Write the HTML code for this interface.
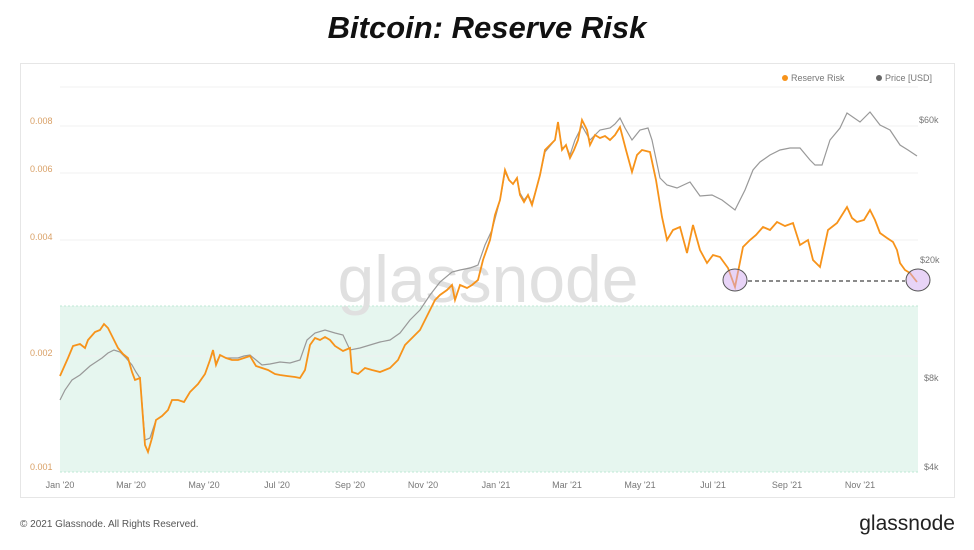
<!DOCTYPE html>
<html><head><meta charset="utf-8"><style>
body{margin:0;width:974px;height:545px;background:#fff;overflow:hidden;font-family:"Liberation Sans",sans-serif}
</style></head><body>
<svg width="974" height="545" xmlns="http://www.w3.org/2000/svg" font-family="Liberation Sans, sans-serif">
<text x="487" y="38" text-anchor="middle" font-size="31" font-weight="bold" font-style="italic" fill="#111">Bitcoin: Reserve Risk</text>
<rect x="20.5" y="63.5" width="934" height="434" fill="#fff" stroke="#e6e6e6"/>
<rect x="60" y="306" width="858" height="166" fill="#e6f6ef"/>
<line x1="60" y1="306" x2="918" y2="306" stroke="#bfe8d6" stroke-dasharray="2,2"/>
<line x1="60" y1="472" x2="918" y2="472" stroke="#bfe8d6" stroke-dasharray="2,2"/>
<g stroke="#f0f0f0"><line x1="60" y1="87" x2="918" y2="87"/><line x1="60" y1="126" x2="918" y2="126"/><line x1="60" y1="173" x2="918" y2="173"/><line x1="60" y1="240" x2="918" y2="240"/><line x1="60" y1="356" x2="918" y2="356"/></g>
<text x="488" y="302" text-anchor="middle" font-size="66" fill="#e0e0e0">glassnode</text>
<g font-size="9" fill="#d9a066"><text x="30" y="124">0.008</text><text x="30" y="172">0.006</text><text x="30" y="240">0.004</text><text x="30" y="356">0.002</text><text x="30" y="470">0.001</text></g>
<g font-size="9" fill="#777"><text x="919" y="123">$60k</text><text x="920" y="263">$20k</text><text x="924" y="381">$8k</text><text x="924" y="470">$4k</text></g>
<g font-size="9" fill="#777" text-anchor="middle"><text x="60" y="488">Jan '20</text><text x="131" y="488">Mar '20</text><text x="204" y="488">May '20</text><text x="277" y="488">Jul '20</text><text x="350" y="488">Sep '20</text><text x="423" y="488">Nov '20</text><text x="496" y="488">Jan '21</text><text x="567" y="488">Mar '21</text><text x="640" y="488">May '21</text><text x="713" y="488">Jul '21</text><text x="787" y="488">Sep '21</text><text x="860" y="488">Nov '21</text></g>
<circle cx="785" cy="78" r="3" fill="#f7931a"/><text x="791" y="81" font-size="9" fill="#777">Reserve Risk</text>
<circle cx="879" cy="78" r="3" fill="#666"/><text x="885" y="81" font-size="9" fill="#777">Price [USD]</text>
<polyline fill="none" stroke="#999" stroke-width="1.2" points="60,400 65,390 72,380 80,375 90,366 96,362 102,358 108,353 114,350 120,352 126,358 132,365 136,372 140,378 145,440 150,438 156,420 162,416 168,410 172,400 178,400 184,402 190,392 198,384 205,374 210,360 213,352 216,363 220,355 226,358 232,358 238,358 244,356 250,355 262,365 270,364 280,362 290,363 300,360 307,340 315,333 325,330 335,333 343,335 350,350 360,348 370,345 380,342 390,340 400,333 410,320 420,310 430,295 440,282 452,272 460,270 470,268 478,265 485,245 492,230 500,200 505,172 509,180 513,184 517,178 520,193 524,200 528,195 532,203 536,190 540,175 545,152 550,146 555,140 558,124 562,148 566,146 570,155 575,140 582,126 590,140 600,130 610,128 615,124 620,118 625,128 632,140 640,130 648,128 652,140 660,178 667,185 677,188 690,182 700,196 712,195 722,200 735,210 745,190 753,170 760,162 770,155 780,150 790,148 800,148 810,160 815,165 822,165 830,140 840,128 847,113 860,122 870,112 880,125 890,130 900,145 908,150 917,156"/>
<polyline fill="none" stroke="#f7931a" stroke-width="1.8" points="60,376 68,358 73,346 80,344 85,348 88,340 95,332 100,330 104,324 108,328 112,336 118,348 123,354 128,358 132,372 135,380 140,378 145,445 148,452 152,438 156,420 162,416 168,410 172,400 178,400 184,402 190,392 198,384 205,374 210,360 213,350 216,365 220,355 226,358 232,360 238,360 244,358 250,356 256,366 262,368 268,370 275,374 280,375 287,376 295,377 300,378 305,370 310,345 315,338 320,340 325,337 330,340 335,346 343,351 350,348 352,372 358,374 365,368 372,370 380,372 390,368 398,360 405,345 412,338 420,330 425,320 430,310 435,300 440,295 447,290 452,285 455,300 460,285 467,288 472,285 478,280 483,260 490,240 495,215 500,200 505,170 509,180 513,184 517,178 520,195 524,202 528,195 532,205 536,190 540,175 545,150 550,145 555,140 558,122 562,150 566,145 570,158 574,150 578,140 582,120 587,130 590,145 595,135 600,138 605,136 610,140 615,135 620,127 626,150 632,172 637,155 642,150 650,152 656,180 662,217 667,240 673,230 680,227 687,253 693,225 700,250 707,263 713,255 720,257 728,268 735,287 743,247 750,240 756,235 763,227 770,230 777,222 785,226 793,223 800,245 808,240 813,260 820,267 828,230 837,223 847,207 852,218 857,222 864,220 870,210 875,220 880,233 887,238 893,242 897,250 900,263 905,270 910,273 917,282"/>
<line x1="748" y1="281" x2="905" y2="281" stroke="#444" stroke-width="1.2" stroke-dasharray="4,3"/>
<ellipse cx="735" cy="280" rx="12" ry="11" fill="rgba(210,170,240,0.5)" stroke="#555"/>
<ellipse cx="918" cy="280" rx="12" ry="11" fill="rgba(210,170,240,0.5)" stroke="#555"/>
<text x="20" y="527" font-size="10" fill="#555">© 2021 Glassnode. All Rights Reserved.</text>
<text x="955" y="530" text-anchor="end" font-size="21" fill="#222">glassnode</text>
</svg>
</body></html>
